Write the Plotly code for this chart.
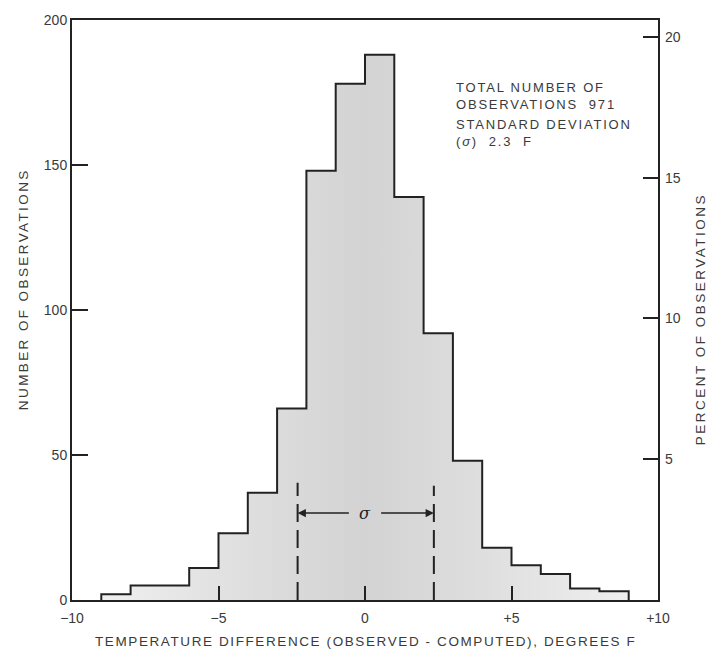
import plotly.graph_objects as go

# Histogram of temperature differences (observed - computed), 1 degree F bins
bin_edges = list(range(-9, 10))
counts = [2, 5, 5, 11, 23, 37, 66, 148, 178, 188, 139, 92, 48, 18, 12, 9, 4, 3]
total_obs = 971
std_dev = 2.3
sigma_bounds = [-2.3, 2.35]

x_ticks = [-10, -5, 0, 5, 10]
x_tick_text = ["\u221210", "\u22125", "0", "+5", "+10"]
y_ticks = [0, 50, 100, 150, 200]
pct_ticks = [5, 10, 15, 20]

INK = "#222222"
TXT = "#3a3a3a"
FONT = "Liberation Sans"


def spaced(s, px):
    return f'<span style="letter-spacing:{px}px">{s}</span>'


# step outline: start and end on the baseline
xs = [bin_edges[0]] + bin_edges[:-1] + [bin_edges[-1]]
ys = [0] + counts + [0]
pct = [v / total_obs * 100 for v in ys]

fig = go.Figure()
fig.add_trace(go.Scatter(
    x=xs, y=ys, mode="lines", line=dict(shape="hv", color=INK, width=2),
    fill="tozeroy",
    fillgradient=dict(
        type="horizontal", start=-9, stop=9,
        colorscale=[[0, "#efefef"], [0.3, "#dddddd"], [0.5, "#d3d3d3"],
                    [0.7, "#dddddd"], [1, "#efefef"]],
    ),
    hoverinfo="skip", showlegend=False,
))
# same distribution on the percent scale
fig.add_trace(go.Scatter(
    x=xs, y=pct, mode="lines", line=dict(shape="hv", width=0),
    opacity=0, yaxis="y2", hoverinfo="skip", showlegend=False,
))

# one-sigma markers
for xb, top in zip(sigma_bounds, [40.4, 39.4]):
    fig.add_shape(type="line", xref="x", yref="y", x0=xb, x1=xb, y0=0, y1=top,
                  line=dict(color=INK, width=2, dash="18px,8px"), layer="above")

for xb, tail in zip(sigma_bounds, [-0.5, 0.5]):
    fig.add_annotation(x=xb, y=30, ax=tail, ay=30, axref="x", ayref="y",
                       xref="x", yref="y", text="", showarrow=True,
                       arrowhead=2, arrowsize=1.1, arrowwidth=1.5,
                       arrowcolor=INK, standoff=0, startstandoff=0)
fig.add_annotation(x=0, y=30, xref="x", yref="y", text="<i>\u03c3</i>",
                   showarrow=False, font=dict(family="DejaVu Serif", size=16, color=INK))

# summary text block, two groups of two lines
info_groups = [
    ("TOTAL NUMBER OF", f"OBSERVATIONS  {total_obs}", 173.8),
    ("STANDARD DEVIATION", f"(<i>\u03c3</i>)\u00a0 {std_dev}\u00a0 F", 161.0),
]
for line1, line2, yv in info_groups:
    fig.add_annotation(x=3.05, y=yv, xref="x", yref="y", xanchor="left",
                       yanchor="middle", align="left", showarrow=False,
                       text=spaced(line1, 1.8) + "<br>" + spaced(line2, 1.8),
                       font=dict(family=FONT, size=13, color=TXT))

# axis titles
fig.add_annotation(x=0.501, y=-0.072, xref="paper", yref="paper",
                   xanchor="center", yanchor="middle", showarrow=False,
                   text=spaced("TEMPERATURE DIFFERENCE (OBSERVED - COMPUTED), DEGREES F", 1.6),
                   font=dict(family=FONT, size=13.5, color=TXT))
fig.add_annotation(x=-0.0836, y=0.536, xref="paper", yref="paper",
                   xanchor="center", yanchor="middle", showarrow=False, textangle=-90,
                   text=spaced("NUMBER OF OBSERVATIONS", 2.4),
                   font=dict(family=FONT, size=13.5, color=TXT))
fig.add_annotation(x=1.0717, y=0.484, xref="paper", yref="paper",
                   xanchor="center", yanchor="middle", showarrow=False, textangle=-90,
                   text=spaced("PERCENT OF OBSERVATIONS", 2.5),
                   font=dict(family=FONT, size=13.5, color=TXT))

tick_font = dict(family=FONT, size=14, color=TXT)
fig.update_layout(
    width=715, height=654, autosize=False,
    margin=dict(l=72, r=57, t=16, b=54),
    paper_bgcolor="white", plot_bgcolor="white",
    xaxis=dict(range=[-10, 10], tickvals=x_ticks, ticktext=x_tick_text,
               ticks="inside", ticklen=14, tickwidth=2, tickcolor=INK,
               showline=True, linecolor=INK, linewidth=2, mirror=True,
               showgrid=False, zeroline=False, tickfont=tick_font,
               ticklabelstandoff=4),
    yaxis=dict(range=[0, 200], tickvals=y_ticks,
               ticks="inside", ticklen=16, tickwidth=2, tickcolor=INK,
               showline=True, linecolor=INK, linewidth=2, mirror=True,
               showgrid=False, zeroline=False, tickfont=tick_font),
    yaxis2=dict(range=[0, 200 / total_obs * 100], tickvals=pct_ticks,
                overlaying="y", side="right",
                ticks="inside", ticklen=15, tickwidth=2, tickcolor=INK,
                showline=False, showgrid=False, zeroline=False,
                tickfont=tick_font, ticklabelstandoff=6),
)

fig.write_html("out.html")
